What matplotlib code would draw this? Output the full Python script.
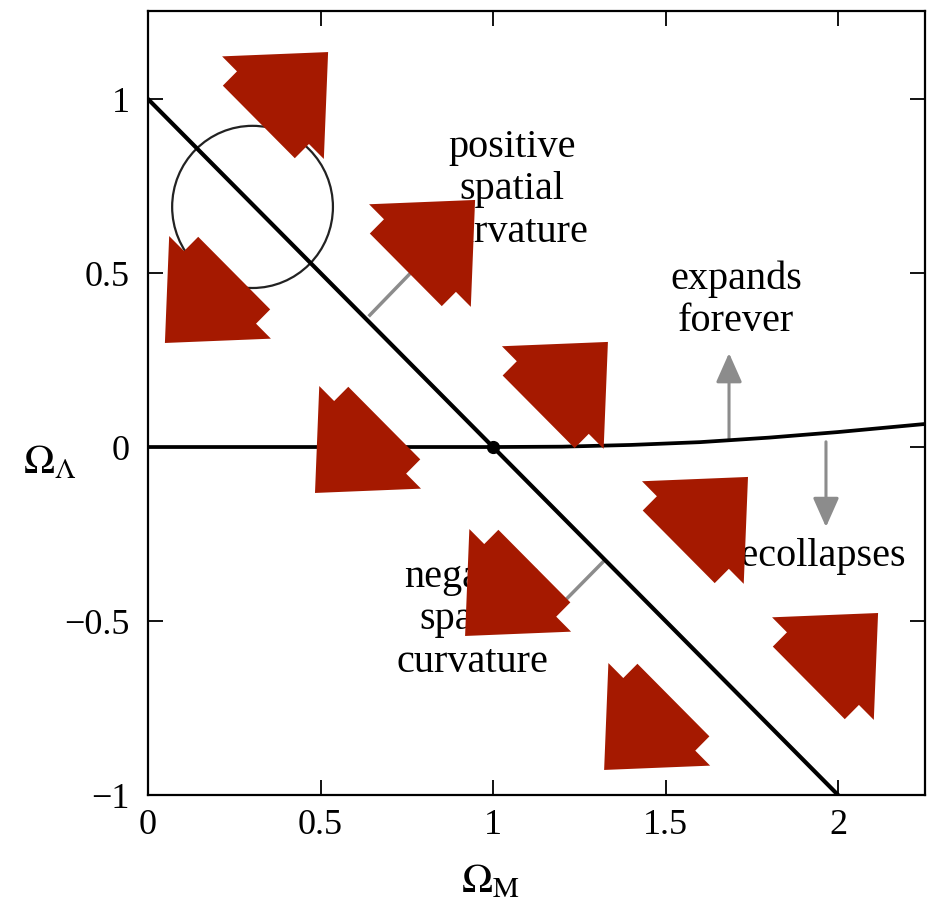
import matplotlib
matplotlib.use("Agg")
import matplotlib.pyplot as plt
import numpy as np
from matplotlib.patches import FancyArrow, Ellipse, FancyArrowPatch

plt.rcParams['font.family'] = ['Liberation Serif', 'DejaVu Serif']
plt.rcParams['mathtext.fontset'] = 'stix'

# ---- data ----
xticks = [0, 0.5, 1, 1.5, 2]
xtick_labels = ["0", "0.5", "1", "1.5", "2"]
yticks = [-1, -0.5, 0, 0.5, 1]
ytick_labels = ["\u22121", "\u22120.5", "0", "0.5", "1"]

# flat-universe line  Omega_M + Omega_L = 1
flat_x = [0.0, 2.0]
flat_y = [1.0, -1.0]

# expand / recollapse boundary
bound_x = [0.0, 1.0, 1.2, 1.4, 1.6, 1.8, 2.0, 2.25]
bound_y = [0.0, 0.0, 0.001, 0.006, 0.014, 0.027, 0.043, 0.066]

# red block arrows: tip positions and direction (+1 up-right, -1 down-left)
red_tip_x = [0.522, 0.049, 0.948, 0.484, 1.333, 0.919, 1.739, 2.116, 1.322]
red_tip_y = [1.135, 0.299, 0.710, -0.132, 0.302, -0.543, -0.086, -0.477, -0.928]
red_dir = [1, -1, 1, -1, 1, -1, 1, 1, -1]

# circle region
circle_center = (0.303, 0.69)
circle_radius_x = 0.233
circle_radius_y = 0.233

fig = plt.figure(figsize=(9.28, 9.11), dpi=100)
ax = fig.add_axes([148/928, 1-795/911, (925-148)/928, (795-11)/911])
ax.set_xlim(0, 2.252)
ax.set_ylim(-1, 1.253)

ax.plot(flat_x, flat_y, color='black', lw=3.0, zorder=3)
ax.plot(bound_x, bound_y, color='black', lw=2.7, zorder=3)
ax.plot([1.0], [0.0], 'o', color='black', markersize=8.5, zorder=4)

ax.add_patch(Ellipse(circle_center, 2*circle_radius_x, 2*circle_radius_y,
                     fill=False, edgecolor='#222222', lw=1.6, zorder=2))

# gray pointer lines / arrows
gray = '#8c8c8c'
ax.plot([0.643, 0.80], [0.379, 0.54], color=gray, lw=2.5, zorder=2)
ax.plot([1.319, 1.16], [-0.330, -0.49], color=gray, lw=2.5, zorder=2)
for (x0, y0, x1, y1) in [(1.684, 0.02, 1.684, 0.27), (1.965, 0.015, 1.965, -0.23)]:
    ax.add_patch(FancyArrowPatch((x0, y0), (x1, y1),
                                 arrowstyle='-|>,head_length=0.9,head_width=0.4',
                                 mutation_scale=20, color=gray, lw=2.2,
                                 shrinkA=0, shrinkB=0, zorder=2))

# texts
tfs = 29
ls = 1.2
ax.text(1.055, 0.739, "positive\nspatial\ncurvature", ha='center', va='center',
        fontsize=tfs, linespacing=ls, zorder=5)
ax.text(0.939, -0.497, "negative\nspatial\ncurvature", ha='center', va='center',
        fontsize=tfs, linespacing=ls, zorder=5)
ax.text(1.704, 0.422, "expands\nforever", ha='center', va='center',
        fontsize=tfs, linespacing=ls, zorder=5)
ax.text(1.937, -0.316, "recollapses", ha='center', va='center',
        fontsize=tfs, zorder=5)

# red arrows
total_len = 0.284
head_len = 0.226
head_w = 0.417
tail_w = 0.295
c = np.cos(np.pi/4)
for tx, ty, d in zip(red_tip_x, red_tip_y, red_dir):
    ux, uy = d*c, d*c
    sx, sy = tx - ux*total_len, ty - uy*total_len
    ax.add_patch(FancyArrow(sx, sy, ux*total_len, uy*total_len, width=tail_w,
                            head_width=head_w, head_length=head_len,
                            length_includes_head=True, color='#A51900',
                            lw=0, zorder=10))

ax.set_xticks(xticks)
ax.set_xticklabels(xtick_labels)
ax.set_yticks(yticks)
ax.set_yticklabels(ytick_labels)
ax.tick_params(direction='in', top=True, right=True, length=11, width=1.3,
               labelsize=26)
ax.tick_params(axis='x', pad=10)
ax.tick_params(axis='y', pad=13)
for s in ax.spines.values():
    s.set_linewidth(1.6)

ax.set_xlabel(r'$\Omega_\mathrm{M}$', fontsize=30, va='center')
ax.set_ylabel(r'$\Omega_\Lambda$', fontsize=30, rotation=0, va='center', ha='center')
ax.xaxis.set_label_coords((490-148)/777, (795-882)/784)
ax.yaxis.set_label_coords((50-148)/777, (795-463)/784)

fig.savefig("out.png", dpi=100)
